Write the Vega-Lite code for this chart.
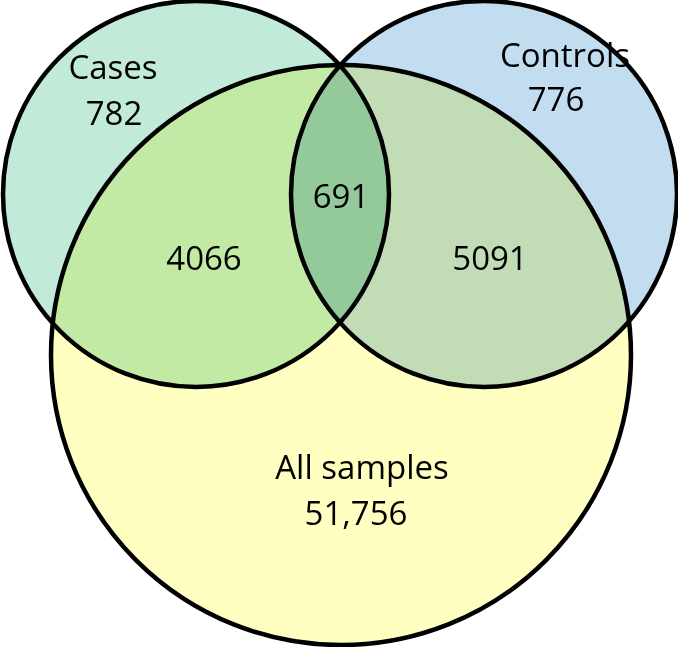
{
  "$schema": "https://vega.github.io/schema/vega-lite/v6.json",
  "width": 678,
  "height": 647,
  "autosize": "none",
  "padding": 0,
  "background": "white",
  "config": {"view": {"stroke": null}},
  "datasets": {
    "circles": [
      {"set": "All samples", "cx": 341, "cy": 355, "r": 290},
      {"set": "Cases", "cx": 196, "cy": 194, "r": 193},
      {"set": "Controls", "cx": 484, "cy": 194, "r": 193}
    ],
    "labels": [
      {"text": "Cases", "lx": 113, "ly": 79},
      {"text": "782", "lx": 114, "ly": 125},
      {"text": "Controls", "lx": 565, "ly": 67},
      {"text": "776", "lx": 556, "ly": 111},
      {"text": "691", "lx": 341, "ly": 208},
      {"text": "4066", "lx": 204, "ly": 270},
      {"text": "5091", "lx": 490, "ly": 270},
      {"text": "All samples", "lx": 362, "ly": 479},
      {"text": "51,756", "lx": 356, "ly": 525}
    ]
  },
  "layer": [
    {
      "data": {"name": "circles"},
      "mark": {"type": "point", "shape": "circle", "filled": true, "fillOpacity": 1, "stroke": "black", "strokeWidth": 4.5, "blend": "multiply"},
      "encoding": {
        "x": {"field": "cx", "type": "quantitative", "scale": {"domain": [0, 678], "range": [0, 678], "nice": false, "zero": false}, "axis": null},
        "y": {"field": "cy", "type": "quantitative", "scale": {"domain": [0, 647], "range": [0, 647], "nice": false, "zero": false}, "axis": null},
        "size": {"field": "r", "type": "quantitative", "scale": {"type": "pow", "exponent": 2, "domain": [0, 300], "range": [0, 360000]}, "legend": null},
        "fill": {"field": "set", "type": "nominal", "scale": {"domain": ["All samples", "Cases", "Controls"], "range": ["#ffffc2", "#c2ead8", "#c2dcf0"]}, "legend": null},
        "order": {"field": "r", "type": "quantitative", "sort": "descending"}
      }
    },
    {
      "data": {"name": "labels"},
      "mark": {"type": "text", "font": "Open Sans", "fontSize": 33, "align": "center", "baseline": "alphabetic", "color": "black"},
      "encoding": {
        "x": {"field": "lx", "type": "quantitative", "scale": {"domain": [0, 678], "range": [0, 678], "nice": false, "zero": false}, "axis": null},
        "y": {"field": "ly", "type": "quantitative", "scale": {"domain": [0, 647], "range": [0, 647], "nice": false, "zero": false}, "axis": null},
        "text": {"field": "text"}
      }
    }
  ]
}
